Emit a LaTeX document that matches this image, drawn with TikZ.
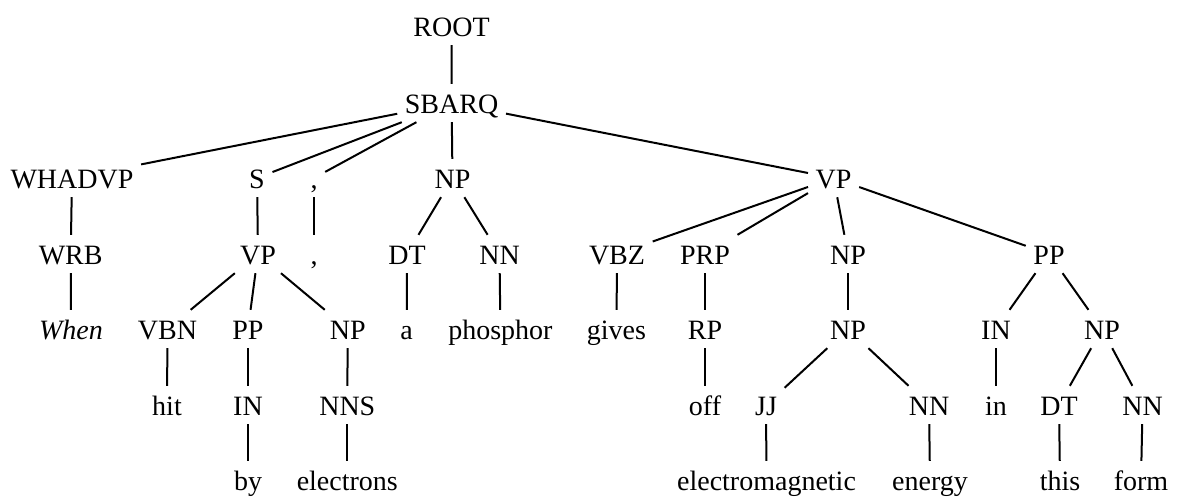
\documentclass[tikz,border=0pt]{standalone}
\usepackage{fontspec}
\newfontfamily\treefont{Liberation Serif}
\begin{document}
\begin{tikzpicture}[x=1pt,y=-1pt,
  tn/.style={inner xsep=7.5pt, inner ysep=9pt, text height=20pt, text depth=0pt,
             anchor=base, font=\treefont\fontsize{28}{33}\selectfont},
  edge/.style={line width=2pt}]
\useasboundingbox (0,0) rectangle (1177,498);
% row 0
\node[tn] (root) at (451.5,36) {ROOT};
% row 1
\node[tn] (sbarq) at (451.6,113) {SBARQ};
% row 2
\node[tn] (whadvp) at (72,188) {WHADVP};
\node[tn] (s) at (257,188) {S};
\node[tn] (comA) at (314,188) {,};
\node[tn] (np1) at (452.5,188) {NP};
\node[tn] (vp1) at (833.6,188) {VP};
% row 3
\node[tn] (wrb) at (70.7,264) {WRB};
\node[tn] (vp2) at (258,264) {VP};
\node[tn] (comB) at (314,264) {,};
\node[tn] (dt1) at (407,264) {DT};
\node[tn] (nn1) at (499.5,264) {NN};
\node[tn] (vbz) at (617,264) {VBZ};
\node[tn] (prp) at (705,264) {PRP};
\node[tn] (np2) at (848,264) {NP};
\node[tn] (pp1) at (1049,264) {PP};
% row 4
\node[tn] (when) at (71,339) {\itshape When};
\node[tn] (vbn) at (167.5,339) {VBN};
\node[tn] (pp2) at (248,339) {PP};
\node[tn] (np3) at (347.7,339) {NP};
\node[tn] (a) at (406.7,339) {a};
\node[tn] (phosphor) at (500.4,339) {phosphor};
\node[tn] (gives) at (616.5,339) {gives};
\node[tn] (rp) at (705,339) {RP};
\node[tn] (np4) at (848,339) {NP};
\node[tn] (in1) at (996,339) {IN};
\node[tn] (np5) at (1102,339) {NP};
% row 5
\node[tn] (hit) at (167,415) {hit};
\node[tn] (in2) at (248,415) {IN};
\node[tn] (nns) at (347.3,415) {NNS};
\node[tn] (off) at (705,415) {off};
\node[tn] (jj) at (766,415) {JJ};
\node[tn] (nn2) at (929,415) {NN};
\node[tn] (inw) at (996,415) {in};
\node[tn] (dt2) at (1059,415) {DT};
\node[tn] (nn3) at (1142.6,415) {NN};
% row 6
\node[tn] (by) at (248,490) {by};
\node[tn] (electrons) at (347.3,490) {electrons};
\node[tn] (em) at (766.5,490) {electromagnetic};
\node[tn] (energy) at (930,490) {energy};
\node[tn] (this) at (1060,490) {this};
\node[tn] (form) at (1141,490) {form};
% edges
\draw[edge] (root) -- (sbarq);
\draw[edge] (sbarq) -- (whadvp);
\draw[edge] (sbarq) -- (s);
\draw[edge] (sbarq) -- (comA);
\draw[edge] (sbarq) -- (np1);
\draw[edge] (sbarq) -- (vp1);
\draw[edge] (whadvp) -- (wrb);
\draw[edge] (wrb) -- (when);
\draw[edge] (s) -- (vp2);
\draw[edge] (vp2) -- (vbn);
\draw[edge] (vp2) -- (pp2);
\draw[edge] (vp2) -- (np3);
\draw[edge] (vbn) -- (hit);
\draw[edge] (pp2) -- (in2);
\draw[edge] (in2) -- (by);
\draw[edge] (np3) -- (nns);
\draw[edge] (nns) -- (electrons);
\draw[edge] (comA) -- (comB);
\draw[edge] (np1) -- (dt1);
\draw[edge] (np1) -- (nn1);
\draw[edge] (dt1) -- (a);
\draw[edge] (nn1) -- (phosphor);
\draw[edge] (vp1) -- (vbz);
\draw[edge] (vp1) -- (prp);
\draw[edge] (vp1) -- (np2);
\draw[edge] (vp1) -- (pp1);
\draw[edge] (vbz) -- (gives);
\draw[edge] (prp) -- (rp);
\draw[edge] (rp) -- (off);
\draw[edge] (np2) -- (np4);
\draw[edge] (np4) -- (jj);
\draw[edge] (np4) -- (nn2);
\draw[edge] (jj) -- (em);
\draw[edge] (nn2) -- (energy);
\draw[edge] (pp1) -- (in1);
\draw[edge] (pp1) -- (np5);
\draw[edge] (in1) -- (inw);
\draw[edge] (np5) -- (dt2);
\draw[edge] (np5) -- (nn3);
\draw[edge] (dt2) -- (this);
\draw[edge] (nn3) -- (form);
\end{tikzpicture}
\end{document}
